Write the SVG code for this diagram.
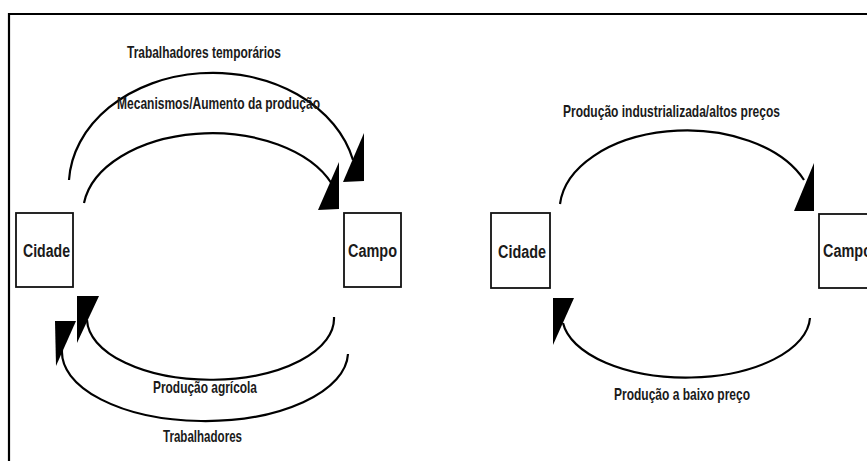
<svg xmlns="http://www.w3.org/2000/svg" width="867" height="461" viewBox="0 0 867 461">
<style>
.frame{fill:none;stroke:#000;stroke-width:2.2}
.box{fill:#fff;stroke:#111;stroke-width:1.8}
.arc{fill:none;stroke:#000;stroke-width:2.2}
.head{fill:#000;stroke:none}
.node{font-family:"Liberation Sans",Arial,sans-serif;font-weight:bold;font-size:18px;fill:#1a1a1a}
.lbl{font-family:"Liberation Sans",Arial,sans-serif;font-weight:bold;font-size:16.5px;fill:#1a1a1a}
</style>
<rect width="867" height="461" fill="#fff"/>
<path class="frame" d="M9,461 V14 H867"/>

<g id="cidade-left">
  <rect class="box" x="16" y="213" width="57" height="74"/>
  <text class="node" x="23" y="257" textLength="47" lengthAdjust="spacingAndGlyphs">Cidade</text>
</g>
<g id="campo-left">
  <rect class="box" x="344" y="213" width="57" height="74"/>
  <text class="node" x="348" y="257" textLength="49" lengthAdjust="spacingAndGlyphs">Campo</text>
</g>
<g id="cidade-right">
  <rect class="box" x="491" y="213" width="59" height="75"/>
  <text class="node" x="498" y="258" textLength="48" lengthAdjust="spacingAndGlyphs">Cidade</text>
</g>
<g id="campo-right">
  <rect class="box" x="819" y="214" width="58" height="74"/>
  <text class="node" x="823" y="257" textLength="49" lengthAdjust="spacingAndGlyphs">Campo</text>
</g>

<g id="connectors">
  <path class="arc" d="M69,180 A144,113 0 0 1 353,160"/>
  <polygon class="head" points="364,133 364,181 343,182"/>
  <path class="arc" d="M84,203 A129,80 0 0 1 332,184"/>
  <polygon class="head" points="339,162 339,209 318,210"/>
  <path class="arc" d="M334,317 A123,61 0 0 1 87,320"/>
  <polygon class="head" points="77,296 99,296 77,343"/>
  <path class="arc" d="M348,354 A143,69 0 0 1 62,350"/>
  <polygon class="head" points="55,321 76,321 56,366"/>
  <path class="arc" d="M560,204 A127,80 0 0 1 804,180"/>
  <polygon class="head" points="814,163 814,211 794,211"/>
  <path class="arc" d="M810,318 A124,62 0 0 1 563,323"/>
  <polygon class="head" points="553,298 574,298 553,345"/>
</g>

<g id="labels">
  <text class="lbl" x="127" y="58" textLength="154" lengthAdjust="spacingAndGlyphs">Trabalhadores temporários</text>
  <text class="lbl" x="117" y="109" textLength="203" lengthAdjust="spacingAndGlyphs">Mecanismos/Aumento da produção</text>
  <text class="lbl" x="153" y="393" textLength="104" lengthAdjust="spacingAndGlyphs">Produção agrícola</text>
  <text class="lbl" x="163" y="442" textLength="79" lengthAdjust="spacingAndGlyphs">Trabalhadores</text>
  <text class="lbl" x="563" y="117" textLength="217" lengthAdjust="spacingAndGlyphs">Produção industrializada/altos preços</text>
  <text class="lbl" x="614" y="400" textLength="136" lengthAdjust="spacingAndGlyphs">Produção a baixo preço</text>
</g>
</svg>
